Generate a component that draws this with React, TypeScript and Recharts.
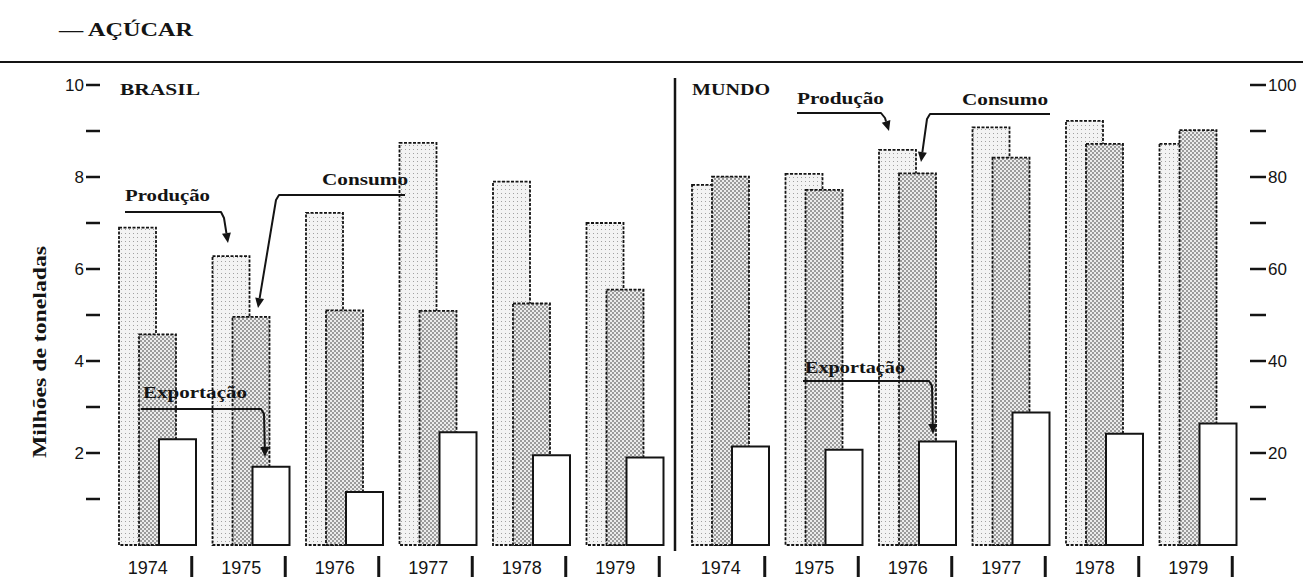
import { BarChart, Bar, XAxis, YAxis } from "recharts";

const years = ["1974", "1975", "1976", "1977", "1978", "1979"];

// milhões de toneladas
const brasilProducao = [6.9, 6.28, 7.22, 8.74, 7.9, 7.0];
const brasilConsumo = [4.58, 4.96, 5.1, 5.09, 5.25, 5.55];
const brasilExportacao = [2.3, 1.7, 1.15, 2.45, 1.95, 1.9];

const mundoProducao = [78.3, 80.7, 85.9, 90.8, 92.2, 87.2];
const mundoConsumo = [80.1, 77.2, 80.8, 84.2, 87.2, 90.2];
const mundoExportacao = [21.4, 20.7, 22.5, 28.8, 24.2, 26.4];

const brasilTicks = [0, 1, 2, 3, 4, 5, 6, 7, 8, 9, 10];
const mundoTicks = [0, 10, 20, 30, 40, 50, 60, 70, 80, 90, 100];

const brasilData = years.map((y, i) => ({
  ano: y, producao: brasilProducao[i], consumo: brasilConsumo[i], exportacao: brasilExportacao[i],
}));
const mundoData = years.map((y, i) => ({
  ano: y, producao: mundoProducao[i], consumo: mundoConsumo[i], exportacao: mundoExportacao[i],
}));

const SANS = "'Liberation Sans', Arial, sans-serif";
const SERIF = "'Liberation Serif', 'Times New Roman', serif";
const INK = "#141414";

function Patterns({ id }: { id: string }) {
  return (
    <defs>
      <pattern id={`prod-${id}`} width="4" height="4" patternUnits="userSpaceOnUse">
        <rect width="4" height="4" fill="#f3f3f3" />
        <rect x="1" y="1" width="1" height="1" fill="#a0a0a0" />
      </pattern>
      <pattern id={`cons-${id}`} width="4" height="4" patternUnits="userSpaceOnUse">
        <rect width="4" height="4" fill="#ececec" />
        <circle cx="1" cy="1" r="0.8" fill="#333" />
        <circle cx="3" cy="3" r="0.8" fill="#333" />
      </pattern>
    </defs>
  );
}

function YearTick(props: any) {
  const { x, payload } = props;
  return (
    <g>
      <text x={x - 10} y={574} textAnchor="middle" fontFamily={SANS} fontSize={18} fill={INK}>
        {payload.value}
      </text>
      <line x1={x + 34} x2={x + 34} y1={556} y2={577} stroke={INK} strokeWidth={3} />
    </g>
  );
}

function LeftTick(props: any) {
  const { y, payload } = props;
  const v = payload.value;
  if (v === 0) return null;
  return (
    <g>
      {v % 2 === 0 && (
        <text x={84} y={y + 6} textAnchor="end" fontFamily={SANS} fontSize={17} fill={INK}>{v}</text>
      )}
      <line x1={86} x2={100} y1={y} y2={y} stroke={INK} strokeWidth={2.5} />
    </g>
  );
}

function RightTick(props: any) {
  const { y, payload } = props;
  const v = payload.value;
  if (v === 0) return null;
  return (
    <g>
      <line x1={578} x2={594} y1={y} y2={y} stroke={INK} strokeWidth={2.5} />
      {v % 20 === 0 && (
        <text x={596} y={y + 6} textAnchor="start" fontFamily={SANS} fontSize={17} fill={INK}>{v}</text>
      )}
    </g>
  );
}

function Leader({ pts }: { pts: [number, number][] }) {
  const [x1, y1] = pts[pts.length - 2];
  const [x2, y2] = pts[pts.length - 1];
  const a = Math.atan2(y2 - y1, x2 - x1);
  const L = 10, W = 4.5;
  const bx = x2 - L * Math.cos(a), by = y2 - L * Math.sin(a);
  const head = `${x2},${y2} ${bx + W * Math.sin(a)},${by - W * Math.cos(a)} ${bx - W * Math.sin(a)},${by + W * Math.cos(a)}`;
  const line = [...pts.slice(0, -1), [bx, by]].map((p) => p.join(",")).join(" ");
  return (
    <g>
      <polyline points={line} fill="none" stroke={INK} strokeWidth={2} strokeLinejoin="round" />
      <polygon points={head} fill={INK} />
    </g>
  );
}

function Label({ x, y, w, children }: { x: number; y: number; w: number; children: string }) {
  return (
    <text x={x} y={y} textLength={w} lengthAdjust="spacingAndGlyphs" fontFamily={SERIF}
      fontWeight="bold" fontSize={17} fill={INK}>
      {children}
    </text>
  );
}

function Series({ id }: { id: string }) {
  return [
    <Bar key="p" dataKey="producao" fill={`url(#prod-${id})`} stroke={INK} strokeWidth={1.8}
      strokeDasharray="3 1.5" isAnimationActive={false} />,
    <Bar key="c" dataKey="consumo" fill={`url(#cons-${id})`} stroke={INK} strokeWidth={1.8}
      strokeDasharray="3 1.5" isAnimationActive={false} />,
    <Bar key="e" dataKey="exportacao" fill="#ffffff" stroke={INK} strokeWidth={2}
      isAnimationActive={false} />,
  ];
}

export default function App() {
  return (
    <div style={{ position: "relative", width: 1303, height: 586, background: "#fff", overflow: "hidden" }}>
      <style>{"body{margin:0;background:#fff}"}</style>

      <div style={{ position: "absolute", left: 0, top: 0 }}>
        <BarChart width={680} height={586} data={brasilData} barSize={37} barGap={-17}
          margin={{ top: 85, right: 8, left: 0, bottom: 11 }}>
          <Patterns id="br" />
          <XAxis dataKey="ano" axisLine={false} tickLine={false} interval={0} height={30} tick={<YearTick />} />
          <YAxis domain={[0, 10]} ticks={brasilTicks} width={111} axisLine={false} tickLine={false}
            tick={<LeftTick />} />
          {Series({ id: "br" })}
        </BarChart>
      </div>

      <div style={{ position: "absolute", left: 672, top: 0 }}>
        <BarChart width={631} height={586} data={mundoData} barSize={37} barGap={-17}
          margin={{ top: 85, right: 0, left: 12, bottom: 11 }}>
          <Patterns id="mu" />
          <XAxis dataKey="ano" axisLine={false} tickLine={false} interval={0} height={30} tick={<YearTick />} />
          <YAxis orientation="right" domain={[0, 100]} ticks={mundoTicks} width={58} axisLine={false}
            tickLine={false} tick={<RightTick />} />
          {Series({ id: "mu" })}
        </BarChart>
      </div>

      <svg width={1303} height={586} style={{ position: "absolute", left: 0, top: 0, pointerEvents: "none" }}>
        <text x={59} y={36} textLength={134} lengthAdjust="spacingAndGlyphs" fontFamily={SERIF}
          fontWeight="bold" fontSize={18} fill={INK}>— AÇÚCAR</text>
        <line x1={0} x2={1303} y1={62} y2={62} stroke={INK} strokeWidth={2} />
        <line x1={675} x2={675} y1={78} y2={551} stroke={INK} strokeWidth={2.5} />

        <text transform="translate(46,352) rotate(-90)" textAnchor="middle" textLength={212}
          lengthAdjust="spacingAndGlyphs" fontFamily={SERIF} fontWeight="bold" fontSize={18}
          fill={INK}>Milhões de toneladas</text>

        <Label x={120} y={95} w={80}>BRASIL</Label>
        <Label x={692} y={95} w={78}>MUNDO</Label>

        <Label x={125} y={201} w={85}>Produção</Label>
        <Leader pts={[[125, 212], [221, 212], [224, 218], [228, 243]]} />

        <Label x={322} y={185} w={86}>Consumo</Label>
        <Leader pts={[[405, 195], [279, 195], [276, 200], [258, 308]]} />

        <Label x={143} y={398} w={104}>Exportação</Label>
        <Leader pts={[[141, 409], [261, 409], [264, 414], [265, 457]]} />

        <Label x={797} y={104} w={87}>Produção</Label>
        <Leader pts={[[797, 113], [881, 113], [885, 118], [889, 131]]} />

        <Label x={962} y={105} w={86}>Consumo</Label>
        <Leader pts={[[1050, 114], [930, 114], [927, 119], [921, 162]]} />

        <Label x={805} y={373} w={100}>Exportação</Label>
        <Leader pts={[[803, 381], [929, 381], [932, 386], [933, 434]]} />
      </svg>
    </div>
  );
}
